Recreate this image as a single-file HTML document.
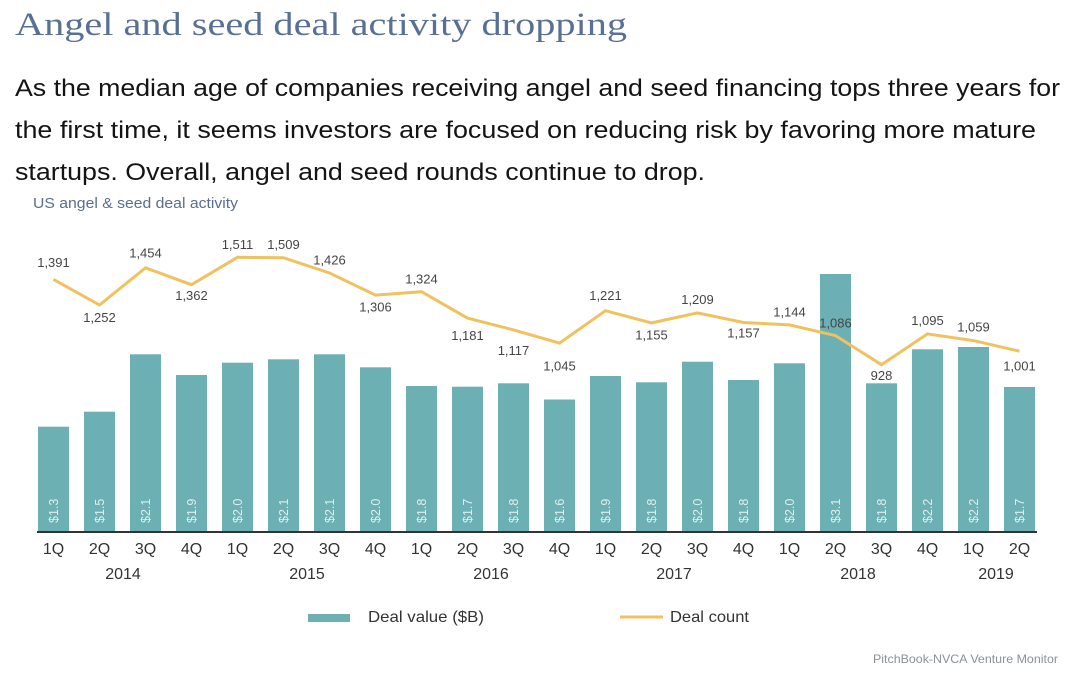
<!DOCTYPE html>
<html>
<head>
<meta charset="utf-8">
<style>
  html,body{margin:0;padding:0;background:#fff;}
  svg{display:block;}
  text{font-family:"Liberation Sans",sans-serif;}
</style>
</head>
<body>
<svg width="1080" height="675" viewBox="0 0 1080 675" xmlns="http://www.w3.org/2000/svg">
  <rect width="1080" height="675" fill="#fff"/>
  <!-- Title -->
  <text x="15" y="35" style="font-family:'Liberation Serif',serif" font-size="33" fill="#587094" textLength="612" lengthAdjust="spacingAndGlyphs">Angel and seed deal activity dropping</text>
  <!-- Body -->
  <text x="15" y="96" font-size="24" fill="#141414" textLength="1045" lengthAdjust="spacingAndGlyphs">As the median age of companies receiving angel and seed financing tops three years for</text>
  <text x="15" y="138" font-size="24" fill="#141414" textLength="1021" lengthAdjust="spacingAndGlyphs">the first time, it seems investors are focused on reducing risk by favoring more mature</text>
  <text x="15" y="180" font-size="24" fill="#141414" textLength="690" lengthAdjust="spacingAndGlyphs">startups. Overall, angel and seed rounds continue to drop.</text>
  <!-- Chart subtitle -->
  <text x="33" y="208" font-size="15" fill="#5a6e8e" textLength="205" lengthAdjust="spacingAndGlyphs">US angel &amp; seed deal activity</text>

  <!-- Bars -->
  <g fill="#6cb0b3">
    <rect x="38" y="426.7" width="31" height="104.8"/>
    <rect x="84" y="411.7" width="31" height="119.8"/>
    <rect x="130" y="354.3" width="31" height="177.2"/>
    <rect x="176" y="375" width="31" height="156.5"/>
    <rect x="222" y="362.7" width="31" height="168.8"/>
    <rect x="268" y="359.3" width="31" height="172.2"/>
    <rect x="314" y="354.3" width="31" height="177.2"/>
    <rect x="360" y="367.3" width="31" height="164.2"/>
    <rect x="406" y="386" width="31" height="145.5"/>
    <rect x="452" y="386.7" width="31" height="144.8"/>
    <rect x="498" y="383.3" width="31" height="148.2"/>
    <rect x="544" y="399.5" width="31" height="132"/>
    <rect x="590" y="376" width="31" height="155.5"/>
    <rect x="636" y="382.3" width="31" height="149.2"/>
    <rect x="682" y="361.7" width="31" height="169.8"/>
    <rect x="728" y="380" width="31" height="151.5"/>
    <rect x="774" y="363.3" width="31" height="168.2"/>
    <rect x="820" y="274" width="31" height="257.5"/>
    <rect x="866" y="383.3" width="31" height="148.2"/>
    <rect x="912" y="349.3" width="31" height="182.2"/>
    <rect x="958" y="347" width="31" height="184.5"/>
    <rect x="1004" y="387" width="31" height="144.5"/>
  </g>

  <!-- Bar value labels -->
  <g font-size="12.5" fill="#dcefef">
    <text transform="translate(58,523) rotate(-90)">$1.3</text>
    <text transform="translate(104,523) rotate(-90)">$1.5</text>
    <text transform="translate(150,523) rotate(-90)">$2.1</text>
    <text transform="translate(196,523) rotate(-90)">$1.9</text>
    <text transform="translate(242,523) rotate(-90)">$2.0</text>
    <text transform="translate(288,523) rotate(-90)">$2.1</text>
    <text transform="translate(334,523) rotate(-90)">$2.1</text>
    <text transform="translate(380,523) rotate(-90)">$2.0</text>
    <text transform="translate(426,523) rotate(-90)">$1.8</text>
    <text transform="translate(472,523) rotate(-90)">$1.7</text>
    <text transform="translate(518,523) rotate(-90)">$1.8</text>
    <text transform="translate(564,523) rotate(-90)">$1.6</text>
    <text transform="translate(610,523) rotate(-90)">$1.9</text>
    <text transform="translate(656,523) rotate(-90)">$1.8</text>
    <text transform="translate(702,523) rotate(-90)">$2.0</text>
    <text transform="translate(748,523) rotate(-90)">$1.8</text>
    <text transform="translate(794,523) rotate(-90)">$2.0</text>
    <text transform="translate(840,523) rotate(-90)">$3.1</text>
    <text transform="translate(886,523) rotate(-90)">$1.8</text>
    <text transform="translate(932,523) rotate(-90)">$2.2</text>
    <text transform="translate(978,523) rotate(-90)">$2.2</text>
    <text transform="translate(1024,523) rotate(-90)">$1.7</text>
  </g>

  <!-- Axis -->
  <line x1="37" y1="532" x2="1037" y2="532" stroke="#333" stroke-width="2"/>

  <!-- Line -->
  <polyline fill="none" stroke="#f1c15f" stroke-width="3" stroke-linejoin="miter"
    points="53.5,279.4 99.5,305 145.5,267.8 191.5,284.7 237.5,257.3 283.5,257.7 329.5,273 375.5,295.1 421.5,291.7 467.5,318.1 513.5,329.9 559.5,343.1 605.5,310.7 651.5,322.9 697.5,312.9 743.5,322.5 789.5,324.9 835.5,335.6 881.5,364.7 927.5,333.9 973.5,340.6 1019.5,351.2"/>

  <!-- Line labels -->
  <g font-size="13" fill="#454545" text-anchor="middle">
    <text x="53.5" y="267">1,391</text>
    <text x="99.5" y="322">1,252</text>
    <text x="145.5" y="257.5">1,454</text>
    <text x="191.5" y="300">1,362</text>
    <text x="237.5" y="249">1,511</text>
    <text x="283.5" y="249">1,509</text>
    <text x="329.5" y="264.5">1,426</text>
    <text x="375.5" y="311.5">1,306</text>
    <text x="421.5" y="283.5">1,324</text>
    <text x="467.5" y="340">1,181</text>
    <text x="513.5" y="355">1,117</text>
    <text x="559.5" y="370.5">1,045</text>
    <text x="605.5" y="300">1,221</text>
    <text x="651.5" y="339.5">1,155</text>
    <text x="697.5" y="304">1,209</text>
    <text x="743.5" y="337.5">1,157</text>
    <text x="789.5" y="316.5">1,144</text>
    <text x="835.5" y="327.5">1,086</text>
    <text x="881.5" y="380">928</text>
    <text x="927.5" y="325">1,095</text>
    <text x="973.5" y="331.5">1,059</text>
    <text x="1019.5" y="370.5">1,001</text>
  </g>

  <!-- X labels -->
  <g font-size="16" fill="#333" text-anchor="middle">
    <text x="53.5" y="554">1Q</text>
    <text x="99.5" y="554">2Q</text>
    <text x="145.5" y="554">3Q</text>
    <text x="191.5" y="554">4Q</text>
    <text x="237.5" y="554">1Q</text>
    <text x="283.5" y="554">2Q</text>
    <text x="329.5" y="554">3Q</text>
    <text x="375.5" y="554">4Q</text>
    <text x="421.5" y="554">1Q</text>
    <text x="467.5" y="554">2Q</text>
    <text x="513.5" y="554">3Q</text>
    <text x="559.5" y="554">4Q</text>
    <text x="605.5" y="554">1Q</text>
    <text x="651.5" y="554">2Q</text>
    <text x="697.5" y="554">3Q</text>
    <text x="743.5" y="554">4Q</text>
    <text x="789.5" y="554">1Q</text>
    <text x="835.5" y="554">2Q</text>
    <text x="881.5" y="554">3Q</text>
    <text x="927.5" y="554">4Q</text>
    <text x="973.5" y="554">1Q</text>
    <text x="1019.5" y="554">2Q</text>
  </g>
  <g font-size="16" fill="#333" text-anchor="middle">
    <text x="123" y="579">2014</text>
    <text x="307" y="579">2015</text>
    <text x="491" y="579">2016</text>
    <text x="674" y="579">2017</text>
    <text x="858" y="579">2018</text>
    <text x="996" y="579">2019</text>
  </g>

  <!-- Legend -->
  <rect x="308" y="614" width="42" height="8" fill="#6cb0b3"/>
  <text x="368" y="622" font-size="16" fill="#333" textLength="116" lengthAdjust="spacingAndGlyphs">Deal value ($B)</text>
  <line x1="620" y1="617" x2="663" y2="617" stroke="#f1c15f" stroke-width="3"/>
  <text x="670" y="622" font-size="16" fill="#333" textLength="79" lengthAdjust="spacingAndGlyphs">Deal count</text>

  <!-- Footer -->
  <text x="873" y="663" font-size="12" fill="#8b9099" textLength="185" lengthAdjust="spacingAndGlyphs">PitchBook-NVCA Venture Monitor</text>
</svg>
</body>
</html>
